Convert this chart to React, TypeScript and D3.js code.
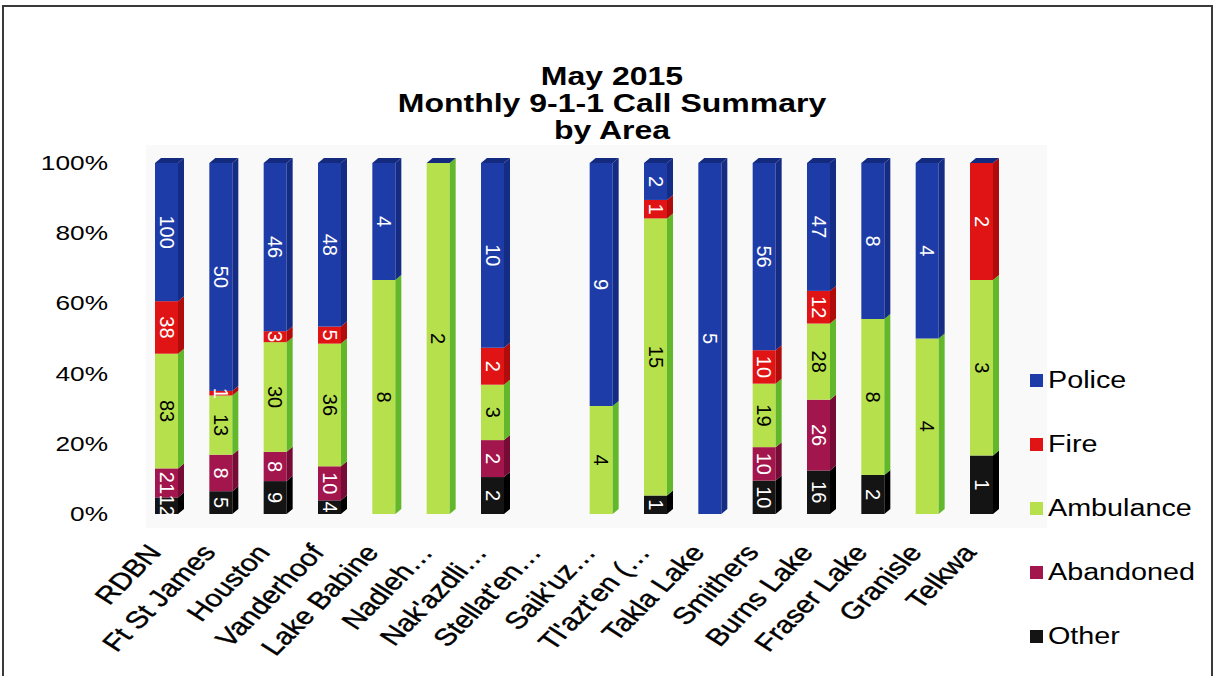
import React from "react";
import * as d3 from "d3";

const categories = [
  "RDBN", "Ft St James", "Houston", "Vanderhoof", "Lake Babine", "Nadleh…",
  "Nak'azdli…", "Stellat'en…", "Saik'uz…", "Tl'azt'en (…", "Takla Lake",
  "Smithers", "Burns Lake", "Fraser Lake", "Granisle", "Telkwa",
];
const police = [100, 50, 46, 48, 4, 0, 10, 0, 9, 2, 5, 56, 47, 8, 4, 0];
const fire = [38, 1, 3, 5, 0, 0, 2, 0, 0, 1, 0, 10, 12, 0, 0, 2];
const ambulance = [83, 13, 30, 36, 8, 2, 3, 0, 4, 15, 0, 19, 28, 8, 4, 3];
const abandoned = [21, 8, 8, 10, 0, 0, 2, 0, 0, 0, 0, 10, 26, 0, 0, 0];
const other = [12, 5, 9, 4, 0, 0, 2, 0, 0, 1, 0, 10, 16, 2, 0, 1];
const yTicks = [0, 0.2, 0.4, 0.6, 0.8, 1];
const titleLines = ["May 2015", "Monthly 9-1-1 Call Summary", "by Area"];

const seriesKeys = ["Other", "Abandoned", "Ambulance", "Fire", "Police"];
const seriesValues: Record<string, number[]> = {
  Other: other, Abandoned: abandoned, Ambulance: ambulance, Fire: fire, Police: police,
};
const legendOrder = ["Police", "Fire", "Ambulance", "Abandoned", "Other"];
const front: Record<string, string> = {
  Police: "#1e3ca8", Fire: "#e01414", Ambulance: "#b6e04c", Abandoned: "#a3154d", Other: "#141414",
};
const side: Record<string, string> = {
  Police: "#142c84", Fire: "#b00c0c", Ambulance: "#62b82a", Abandoned: "#760c36", Other: "#000000",
};
const labelColor: Record<string, string> = {
  Police: "#ffffff", Fire: "#ffffff", Ambulance: "#000000", Abandoned: "#ffffff", Other: "#ffffff",
};

const W = 1216, H = 676;
const SX = 1.25;
const FONT = "'Liberation Sans', Arial, sans-serif";

export default function App() {
  const table = categories.map((c, i) => {
    const row: any = { cat: c };
    seriesKeys.forEach((k) => (row[k] = seriesValues[k][i]));
    return row;
  });
  const stacked = d3.stack<any>().keys(seriesKeys).offset(d3.stackOffsetExpand)(table);
  const x = d3.scalePoint<string>().domain(categories).range([166.5, 981.5]);
  const y = d3.scaleLinear().domain([0, 1]).range([514, 163]);
  const fw = 23, half = 11.5, dx = 6, dy = 5;

  const totals = categories.map((_, i) => seriesKeys.reduce((s, k) => s + seriesValues[k][i], 0));

  return (
    <div style={{ position: "absolute", left: 0, top: 0 }}>
      <svg width={W} height={H} style={{ display: "block", background: "#fff" }}>
        <rect x={3} y={6} width={1209} height={690} fill="#fff" stroke="#3a3a3a" strokeWidth={2} />
        <rect x={146} y={145} width={901} height={383} fill="#f9f9f9" />
        {titleLines.map((t, i) => (
          <text key={i} transform={`translate(612,${85 + i * 27}) scale(1.28,1)`} textAnchor="middle"
            fontFamily={FONT} fontWeight="bold" fontSize={25} fill="#000">{t}</text>
        ))}
        {yTicks.map((t) => (
          <text key={t} transform={`translate(108,${y(t) + 7}) scale(${SX},1)`} textAnchor="end"
            fontFamily={FONT} fontSize={21} fill="#000">{d3.format(".0%")(t)}</text>
        ))}
        {categories.map((c, i) => {
          const cx = x(c)!;
          const l = cx - half, r = cx + half;
          const parts: any[] = [];
          stacked.forEach((s) => {
            const v = seriesValues[s.key][i];
            if (!v) return;
            const y0 = y(s[i][0]), y1 = y(s[i][1]);
            parts.push(
              <g key={s.key}>
                <rect x={l} y={y1} width={fw} height={y0 - y1} fill={front[s.key]} />
                <polygon points={`${r},${y1} ${r + dx},${y1 - dy} ${r + dx},${y0 - dy} ${r},${y0}`} fill={side[s.key]} />
              </g>
            );
          });
          if (totals[i] > 0) {
            const yt = y(1);
            parts.push(
              <polygon key="top" points={`${l},${yt} ${l + dx},${yt - dy} ${r + dx},${yt - dy} ${r},${yt}`} fill="#142a7e" />
            );
          }
          stacked.forEach((s) => {
            const v = seriesValues[s.key][i];
            if (!v) return;
            const ym = (y(s[i][0]) + y(s[i][1])) / 2;
            parts.push(
              <text key={"l" + s.key} transform={`translate(${cx},${ym}) rotate(90)`} textAnchor="middle"
                dominantBaseline="central" fontFamily={FONT} fontSize={20} fill={labelColor[s.key]}>{v}</text>
            );
          });
          return <g key={c}>{parts}</g>;
        })}
        {categories.map((c) => (
          <text key={"x" + c} transform={`translate(${x(c)! - 4},${553}) scale(${SX},1) rotate(-51.3)`}
            textAnchor="end" fontFamily={FONT} fontSize={24} fill="#000" stroke="#000" strokeWidth={0.4}>{c}</text>
        ))}
        {legendOrder.map((k, i) => {
          const ly = 380 + i * 64;
          return (
            <g key={k}>
              <rect x={1030} y={ly - 6} width={13} height={13} fill={front[k]} />
              <text transform={`translate(1048,${ly + 8}) scale(${SX},1)`} fontFamily={FONT} fontSize={23} fill="#000">{k}</text>
            </g>
          );
        })}
      </svg>
    </div>
  );
}
